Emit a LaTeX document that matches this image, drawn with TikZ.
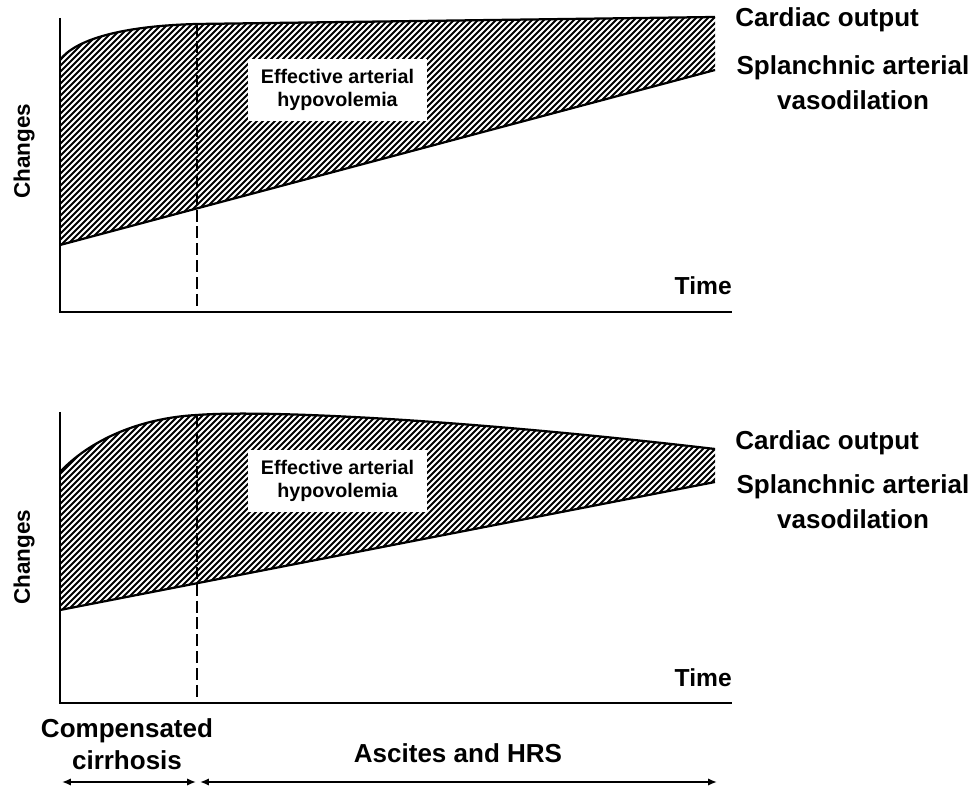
\documentclass[tikz,border=0pt]{standalone}
\usepackage{fontspec}
\setmainfont{Liberation Sans}
\usetikzlibrary{arrows.meta}

\begin{document}
\begin{tikzpicture}[
    x=0.025cm, y=-0.025cm,
    axis/.style={line width=1.4pt},
    curve/.style={line width=1.6pt},
    hatch/.style={line width=1.5pt},
    phase/.style={line width=1.5pt, dash pattern=on 8.5pt off 3.5pt},
    span/.style={line width=1.2pt, {Latex[length=2.2mm,width=1.8mm]}-{Latex[length=2.2mm,width=1.8mm]}},
    big/.style={font=\fontsize{18.5}{25}\selectfont\bfseries, inner sep=0pt},
    boxtext/.style={fill=white, align=center, minimum width=4.475cm, minimum height=1.55cm,
      font=\fontsize{14}{16}\selectfont\bfseries}
  ]
\useasboundingbox (0,0) rectangle (976,787);

% upper panel: hatched band
\begin{scope}
  \clip (60,60) .. controls (75,40) and (120,26) .. (197,24) -- (715,17) -- (715,70) -- (60,245) -- cycle;
  \foreach \k in {-282,-276,...,720} \draw[hatch] (\k,330) -- ++(330,-330);
\end{scope}
\draw[curve] (60,60) .. controls (75,40) and (120,26) .. (197,24) -- (715,17);
\draw[curve] (60,245) -- (715,70);
\draw[axis] (60,18) -- (60,312) -- (732,312);
\draw[phase] (197,24) -- (197,312);

\node[boxtext] (gapA) at (337.5,90) {Effective arterial\\hypovolemia};
\node[big, anchor=west] (coA) at (735,20) {Cardiac output};
\node[big, align=center] (svA) at (853,83) {Splanchnic arterial\\vasodilation};
\node[big, font=\fontsize{17.5}{20}\selectfont\bfseries, anchor=east] (timeA) at (732,286) {Time};
\node[big, font=\fontsize{16}{18}\selectfont\bfseries, rotate=90] (chA) at (24,151) {Changes};

% lower panel: hatched band
\begin{scope}
  \clip (60,472) .. controls (90,440) and (140,418) .. (197,415) .. controls (260,410) and (450,418) .. (715,449)
        -- (715,482) -- (60,610) -- cycle;
  \foreach \k in {-282,-276,...,720} \draw[hatch] (\k,720) -- ++(330,-330);
\end{scope}
\draw[curve] (60,472) .. controls (90,440) and (140,418) .. (197,415) .. controls (260,410) and (450,418) .. (715,449);
\draw[curve] (60,610) -- (715,482);
\draw[axis] (60,412) -- (60,703) -- (732,703);
\draw[phase] (197,415) -- (197,703);

\node[boxtext] (gapB) at (337.5,481) {Effective arterial\\hypovolemia};
\node[big, anchor=west] (coB) at (735,443) {Cardiac output};
\node[big, align=center] (svB) at (853,502) {Splanchnic arterial\\vasodilation};
\node[big, font=\fontsize{17.5}{20}\selectfont\bfseries, anchor=east] (timeB) at (732,678) {Time};
\node[big, font=\fontsize{16}{18}\selectfont\bfseries, rotate=90] (chB) at (24,557) {Changes};

% phases
\node[big, align=center, font=\fontsize{18.5}{23}\selectfont\bfseries] (comp) at (127,744) {Compensated\\cirrhosis};
\node[big] (asc) at (458,753) {Ascites and HRS};
\coordinate (p0) at (62,782);
\coordinate (p1) at (196,782);
\coordinate (p2) at (200,782);
\coordinate (p3) at (717,782);
\draw[span] (p0) -- (p1);
\draw[span] (p2) -- (p3);

\end{tikzpicture}
\end{document}
